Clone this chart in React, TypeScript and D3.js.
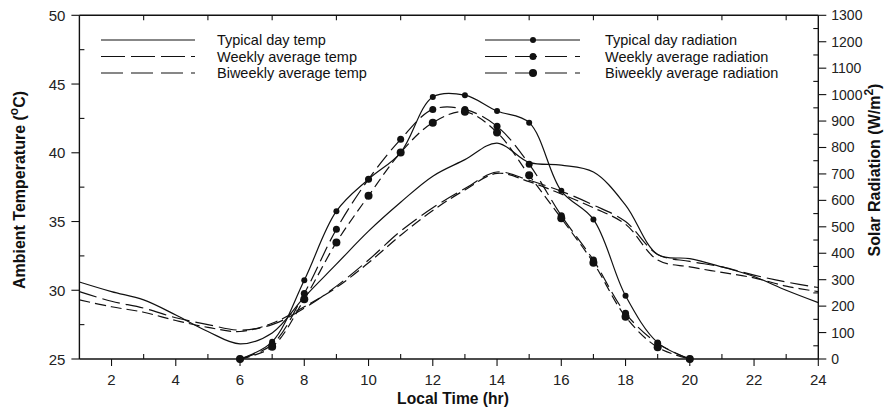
import React from "react";
import * as d3 from "d3";

const hours = d3.range(1, 25);
const tempTypical = [30.6, 29.9, 29.3, 28.2, 27.0, 26.1, 26.9, 29.5, 31.9, 34.3, 36.4, 38.3, 39.5, 40.7, 39.3, 39.1, 38.6, 36.2, 32.6, 32.3, 31.7, 31.0, 30.0, 29.1];
const tempWeekly = [29.9, 29.2, 28.7, 28.0, 27.5, 27.1, 27.5, 28.7, 30.3, 32.2, 34.3, 36.0, 37.4, 38.6, 38.0, 37.2, 36.2, 35.0, 32.6, 32.1, 31.7, 31.1, 30.6, 30.2];
const tempBiweekly = [29.3, 28.8, 28.4, 27.8, 27.3, 27.0, 27.6, 28.8, 30.2, 32.0, 34.0, 35.8, 37.3, 38.5, 37.9, 37.0, 36.0, 34.8, 32.2, 31.7, 31.3, 30.9, 30.3, 29.9];

const radHours = d3.range(6, 21);
const radTypical = [0, 65, 298, 559, 680, 781, 991, 998, 938, 894, 636, 528, 239, 62, 0];
const radWeekly = [0, 55, 248, 491, 680, 831, 944, 944, 880, 737, 542, 374, 173, 59, 0];
const radBiweekly = [0, 46, 226, 441, 617, 781, 894, 935, 857, 695, 532, 364, 160, 44, 0];

const xTicks = d3.range(2, 25, 2);
const xMinor = d3.range(3, 24, 2);
const tTicks = [25, 30, 35, 40, 45, 50];
const tMinor = [27.5, 32.5, 37.5, 42.5, 47.5];
const rTicks = d3.range(0, 1301, 100);
const rMinor = d3.range(50, 1300, 100);

export default function App() {
  const x = d3.scaleLinear().domain([1, 24]).range([79.4, 818.3]);
  const yT = d3.scaleLinear().domain([25, 50]).range([359, 15.3]);
  const yR = d3.scaleLinear().domain([0, 1300]).range([359, 15.3]);
  const curve = d3.curveCatmullRom.alpha(0.5);
  const tLine = (vals: number[]) =>
    d3.line<number>().x((_, i) => x(hours[i])).y((v) => yT(v)).curve(curve)(vals) || "";
  const rLine = (vals: number[]) =>
    d3.line<number>().x((_, i) => x(radHours[i])).y((v) => yR(v)).curve(curve)(vals) || "";
  const font = "'Liberation Sans', Arial, sans-serif";
  const [x0, x1] = x.range();
  const yb = 359, yt = 15.3;

  const tempSeries = [
    { name: "Typical day temp", vals: tempTypical, dash: "" },
    { name: "Weekly average temp", vals: tempWeekly, dash: "18,6" },
    { name: "Biweekly average temp", vals: tempBiweekly, dash: "11,5" },
  ];
  const radSeries = [
    { name: "Typical day radiation", vals: radTypical, dash: "", r: 3 },
    { name: "Weekly average radiation", vals: radWeekly, dash: "16,6", r: 3.5 },
    { name: "Biweekly average radiation", vals: radBiweekly, dash: "10,5", r: 4 },
  ];
  const rows = [40, 56.5, 73];

  return (
    <svg width={894} height={408} style={{ position: "absolute", left: 0, top: 0, background: "#fff" }} fontFamily={font}>
      <g stroke="#111" strokeWidth={1.4} fill="none">
        <line x1={x0} x2={x1} y1={yb} y2={yb} />
        <line x1={x0} x2={x1} y1={yt} y2={yt} />
        <line x1={x0} x2={x0} y1={yt} y2={yb} />
        <line x1={x1} x2={x1} y1={yt} y2={yb} />
      </g>
      <g stroke="#111" strokeWidth={1.1}>
        {xTicks.map((t) => <line key={"xt" + t} x1={x(t)} x2={x(t)} y1={yb} y2={yb + 7} />)}
        {xMinor.map((t) => <line key={"xm" + t} x1={x(t)} x2={x(t)} y1={yb} y2={yb - 5} />)}
        {xMinor.map((t) => <line key={"xtop" + t} x1={x(t)} x2={x(t)} y1={yt} y2={yt + 5} />)}
        {tTicks.map((t) => <line key={"tt" + t} x1={x0 - 8} x2={x0} y1={yT(t)} y2={yT(t)} />)}
        {tMinor.map((t) => <line key={"tm" + t} x1={x0} x2={x0 + 5} y1={yT(t)} y2={yT(t)} />)}
        {rTicks.map((t) => <line key={"rt" + t} x1={x1} x2={x1 + 8} y1={yR(t)} y2={yR(t)} />)}
        {rMinor.map((t) => <line key={"rm" + t} x1={x1 - 5} x2={x1} y1={yR(t)} y2={yR(t)} />)}
      </g>
      <g fontSize={15} fill="#222">
        {xTicks.map((t) => <text key={"xl" + t} x={x(t)} y={385} textAnchor="middle">{t}</text>)}
        {tTicks.map((t) => <text key={"tl" + t} x={x0 - 14} y={yT(t) + 5.5} textAnchor="end">{t}</text>)}
      </g>
      <g fontSize={14} fill="#222">
        {rTicks.map((t) => <text key={"rl" + t} x={x1 + 13} y={yR(t) + 5} textAnchor="start">{t}</text>)}
      </g>
      <text x={453} y={404} textAnchor="middle" fontSize={17} fontWeight="bold" fill="#111"
        transform="translate(453,0) scale(0.92,1) translate(-453,0)">Local Time (hr)</text>
      <text transform="translate(25,190) rotate(-90)" textAnchor="middle" fontSize={16} fontWeight="bold" fill="#111">
        Ambient Temperature (<tspan dy={-7} fontSize={12}>o</tspan><tspan dy={7}>C)</tspan>
      </text>
      <text transform="translate(880,170) rotate(-90)" textAnchor="middle" fontSize={16} fontWeight="bold" fill="#111">
        Solar Radiation (W/m<tspan dy={-7} fontSize={12}>2</tspan><tspan dy={7}>)</tspan>
      </text>
      <g fill="none" stroke="#111" strokeWidth={1.2}>
        {tempSeries.map((s) => <path key={s.name} d={tLine(s.vals)} strokeDasharray={s.dash || undefined} />)}
        {radSeries.map((s) => <path key={s.name} d={rLine(s.vals)} strokeDasharray={s.dash || undefined} />)}
      </g>
      <g fill="#111">
        {radSeries.map((s) =>
          s.vals.map((v, i) => <circle key={s.name + i} cx={x(radHours[i])} cy={yR(v)} r={s.r} />)
        )}
      </g>
      <g fontSize={14.5} fill="#111">
        {tempSeries.map((s, i) => (
          <g key={"lt" + s.name}>
            <line x1={101} x2={195} y1={rows[i]} y2={rows[i]} stroke="#111" strokeWidth={1.2} strokeDasharray={s.dash ? (i === 1 ? "24,6" : "22,8") : undefined} />
            <text x={217} y={rows[i] + 5}>{s.name}</text>
          </g>
        ))}
        {radSeries.map((s, i) => (
          <g key={"lr" + s.name}>
            <line x1={485} x2={580} y1={rows[i]} y2={rows[i]} stroke="#111" strokeWidth={1.2} strokeDasharray={s.dash ? "22,8" : undefined} />
            <circle cx={533} cy={rows[i]} r={s.r} />
            <text x={605} y={rows[i] + 5}>{s.name}</text>
          </g>
        ))}
      </g>
    </svg>
  );
}
